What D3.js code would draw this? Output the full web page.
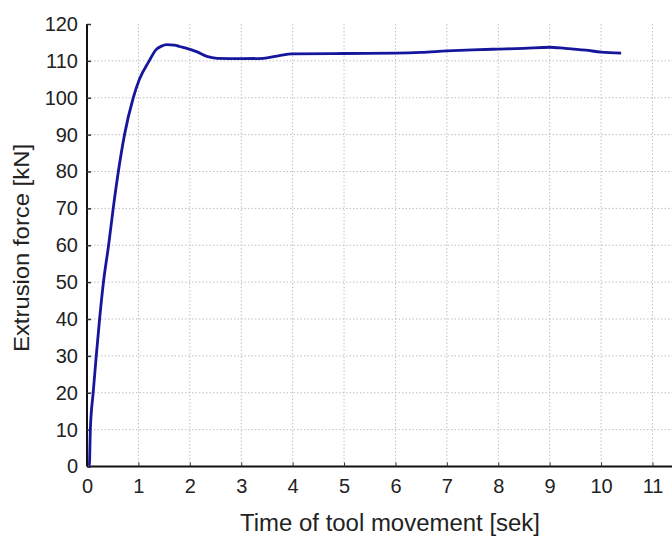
<!DOCTYPE html>
<html><head><meta charset="utf-8">
<script src="https://cdn.jsdelivr.net/npm/d3@7"></script>
<style>
body{margin:0;background:#fff;}
svg{display:block;font-family:"Liberation Sans",Arial,sans-serif;}
</style></head>
<body><svg id="c" width="672" height="536"></svg>
<script>
const timeValues = [0.04,0.045,0.065,0.12,0.18,0.245,0.32,0.42,0.51,0.61,0.73,0.90,1.02,1.21,1.34,1.45,1.55,1.70,1.80,1.91,2.13,2.33,2.53,3.0,3.43,3.7,4.0,5.0,6.0,6.5,7.0,7.5,8.0,8.5,9.0,9.3,9.7,10.0,10.39];
const forceValues = [0,0,10,20,30,40,50,60,70,80,90,100,105,110,113,114,114.4,114.3,113.9,113.5,112.5,111.2,110.7,110.6,110.7,111.3,111.9,112.0,112.1,112.3,112.7,113.0,113.2,113.4,113.7,113.4,112.9,112.4,112.1];
const xTicks = [0,1,2,3,4,5,6,7,8,9,10,11];
const yTicks = [0,10,20,30,40,50,60,70,80,90,100,110,120];
const xLabel = "Time of tool movement [sek]";
const yLabel = "Extrusion force [kN]";

const svg = d3.select("#c");
const x0 = 87, yBot = 466.5, yTop = 24;
const x = d3.scaleLinear().domain([0, 11]).range([x0, 652.5]);
const y = d3.scaleLinear().domain([0, 120]).range([yBot, yTop]);

const g = svg.append("g");
// grid
g.selectAll(".vg").data(xTicks.filter(d=>d>0)).join("line")
  .attr("x1",d=>x(d)).attr("x2",d=>x(d)).attr("y1",yBot).attr("y2",yTop)
  .attr("stroke","#c0c0c0").attr("stroke-width",1).attr("stroke-dasharray","1.5,2");
g.selectAll(".hg").data(yTicks.filter(d=>d>0 && d<120)).join("line")
  .attr("x1",x0).attr("x2",672).attr("y1",d=>y(d)).attr("y2",d=>y(d))
  .attr("stroke","#c0c0c0").attr("stroke-width",1).attr("stroke-dasharray","1.5,2");

// axes
const xAxis = d3.axisBottom(x).tickValues(xTicks).tickSize(-4).tickPadding(12).tickFormat(d3.format("d"));
const gx = svg.append("g").attr("transform",`translate(0,${yBot})`).call(xAxis);
gx.select(".domain").attr("d",`M${x0},0H672`).attr("stroke","#111").attr("stroke-width",2);
gx.selectAll(".tick line").attr("stroke","#333");
gx.selectAll("text").attr("font-size",20).attr("fill","#222").attr("dy","0.71em");

const yAxis = d3.axisLeft(y).tickValues(yTicks).tickSize(-4).tickPadding(9);
const gy = svg.append("g").attr("transform",`translate(${x0},0)`).call(yAxis);
gy.select(".domain").attr("d",`M0,${yTop}V${yBot}`).attr("stroke","#111").attr("stroke-width",2);
gy.selectAll(".tick line").attr("stroke","#333").attr("stroke-width",1.5);
gy.selectAll("text").attr("font-size",20).attr("fill","#222");

// curve
const data = timeValues.map((t,i)=>({t, f:forceValues[i]}));
svg.append("path").datum(data)
  .attr("fill","none").attr("stroke","#16169c").attr("stroke-width",2.8)
  .attr("stroke-linejoin","round")
  .attr("d", d3.line().x(d=>x(d.t)).y(d=>y(d.f)).curve(d3.curveMonotoneX));

// labels
svg.append("text").attr("x",390).attr("y",531).attr("text-anchor","middle")
  .attr("font-size",23).attr("fill","#222")
  .attr("textLength",300).attr("lengthAdjust","spacingAndGlyphs").text(xLabel);
svg.append("text").attr("transform","translate(29,248) rotate(-90)").attr("text-anchor","middle")
  .attr("font-size",22).attr("fill","#222")
  .attr("textLength",208).attr("lengthAdjust","spacingAndGlyphs").text(yLabel);
</script></body></html>
